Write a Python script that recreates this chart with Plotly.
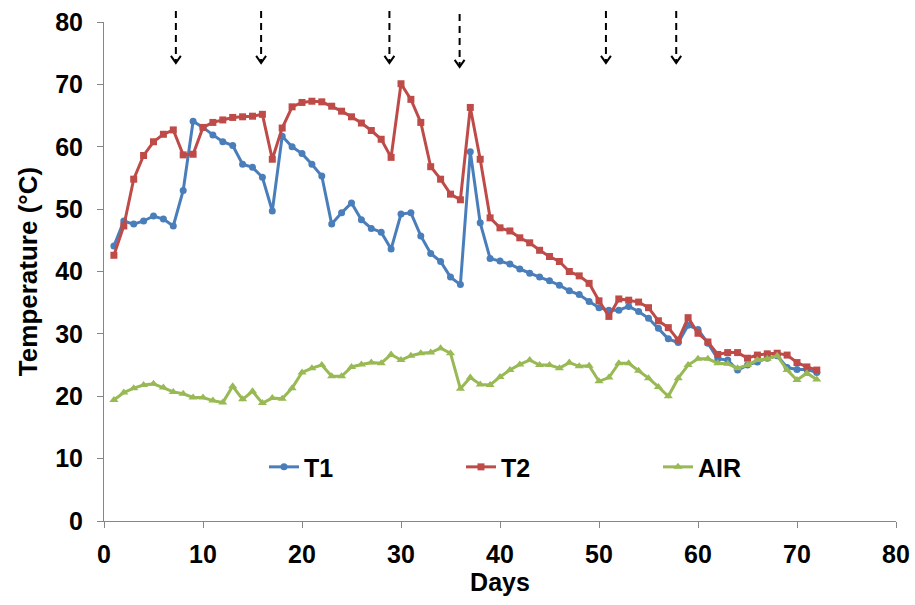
import plotly.graph_objects as go

days = list(range(1, 73))

t1 = [44.1, 48.1, 47.6, 48.1, 48.9, 48.4, 47.3, 53.0, 64.1, 63.1,
      61.9, 60.8, 60.2, 57.2, 56.7, 55.1, 49.7, 61.7, 60.0, 58.9,
      57.2, 55.3, 47.6, 49.4, 51.0, 48.3, 46.9, 46.3, 43.6, 49.2,
      49.4, 45.7, 42.9, 41.6, 39.1, 37.9, 59.2, 47.8, 42.1, 41.7,
      41.2, 40.4, 39.7, 39.1, 38.5, 37.8, 36.9, 36.3, 35.2, 34.2,
      33.8, 33.8, 34.4, 33.6, 32.5, 30.9, 29.2, 28.6, 31.4, 30.7,
      28.5, 26.0, 25.8, 24.2, 25.0, 25.5, 26.1, 26.5, 24.6, 24.3,
      24.3, 23.8]

t2 = [42.6, 47.3, 54.8, 58.6, 60.8, 62.0, 62.7, 58.7, 58.8, 63.1,
      63.9, 64.3, 64.7, 64.8, 64.9, 65.2, 58.0, 63.0, 66.4, 67.1,
      67.3, 67.2, 66.5, 65.7, 64.8, 63.8, 62.6, 61.2, 58.3, 70.1,
      67.6, 63.9, 56.8, 54.8, 52.4, 51.5, 66.3, 58.0, 48.6, 47.0,
      46.5, 45.4, 44.6, 43.4, 42.4, 41.6, 40.0, 39.3, 38.1, 35.3,
      32.8, 35.6, 35.4, 35.1, 34.2, 32.1, 31.0, 29.0, 32.6, 30.1,
      28.7, 26.7, 27.0, 27.0, 26.1, 26.6, 26.8, 26.9, 26.6, 25.4,
      24.7, 24.2]

air = [19.4, 20.6, 21.3, 21.8, 22.0, 21.4, 20.7, 20.4, 19.8, 19.8,
       19.3, 19.0, 21.6, 19.5, 20.8, 18.9, 19.7, 19.6, 21.3, 23.8,
       24.5, 25.0, 23.2, 23.2, 24.7, 25.1, 25.4, 25.3, 26.7, 25.8,
       26.5, 26.9, 27.0, 27.7, 26.9, 21.2, 23.0, 21.9, 21.8, 23.1,
       24.2, 25.1, 25.8, 25.0, 25.0, 24.5, 25.4, 24.8, 24.9, 22.4,
       23.0, 25.3, 25.3, 24.1, 22.9, 21.5, 20.0, 22.9, 25.0, 26.0,
       26.0, 25.3, 25.2, 24.5, 25.0, 25.8, 26.0, 26.5, 24.2, 22.6,
       23.7, 22.7]

arrow_days = [7.26, 15.87, 28.83, 35.92, 50.7, 57.8]

FONT = "Liberation Sans, Arial, sans-serif"
FS = 25

fig = go.Figure()
fig.add_trace(go.Scatter(x=days, y=t1, name="T1", mode="lines+markers",
                         line=dict(color="#4A7EBB", width=3),
                         marker=dict(symbol="circle", size=7, color="#4A7EBB")))
fig.add_trace(go.Scatter(x=days, y=t2, name="T2", mode="lines+markers",
                         line=dict(color="#BE4B48", width=3),
                         marker=dict(symbol="square", size=7, color="#BE4B48")))
fig.add_trace(go.Scatter(x=days, y=air, name="AIR", mode="lines+markers",
                         line=dict(color="#98B954", width=3),
                         marker=dict(symbol="triangle-up", size=8, color="#98B954")))

shapes = []
for i, d in enumerate(arrow_days):
    top, tip = (1.016, 0.910) if i == 3 else (1.022, 0.918)
    shapes.append(dict(type="line", xref="x", yref="paper", x0=d, x1=d,
                       y0=top, y1=tip + 0.004,
                       line=dict(color="black", width=2, dash="7px,5px")))
    shapes.append(dict(type="path", xref="x", yref="paper",
                       path=f"M {d-0.5},{tip+0.014} L {d},{tip} L {d+0.5},{tip+0.014}",
                       line=dict(color="black", width=2)))

axis_common = dict(showgrid=False, zeroline=False, showline=True,
                   linecolor="#868686", linewidth=1, ticks="outside",
                   ticklen=6, tickcolor="#868686", tickwidth=1, automargin=False,
                   tickfont=dict(family=FONT, size=FS, color="black", weight="bold"))

fig.update_layout(
    width=915, height=605,
    margin=dict(l=104, r=19, t=22, b=84),
    plot_bgcolor="white", paper_bgcolor="white",
    font=dict(family=FONT, color="black"),
    xaxis=dict(range=[0, 80], dtick=10, tick0=0, ticklabelstandoff=5,
               title=dict(text="<b>Days</b>", font=dict(family=FONT, size=FS, color="black"),
                          standoff=3),
               **axis_common),
    yaxis=dict(range=[0, 80], dtick=10, tick0=0, ticklabelstandoff=9,
               title=dict(text="<b>Temperature (°C)</b>", font=dict(family=FONT, size=26, color="black"),
                          standoff=10),
               **axis_common),
    legend=dict(orientation="h", x=0.202, y=0.108, xanchor="left", yanchor="middle",
                bgcolor="rgba(0,0,0,0)", entrywidth=152, entrywidthmode="pixels",
                font=dict(family=FONT, size=FS, color="black", weight="bold"),
                itemwidth=30),
    shapes=shapes,
    showlegend=True,
)

fig.write_html("out.html", config={"displayModeBar": False},
               post_script="document.body.style.margin='0px';")
